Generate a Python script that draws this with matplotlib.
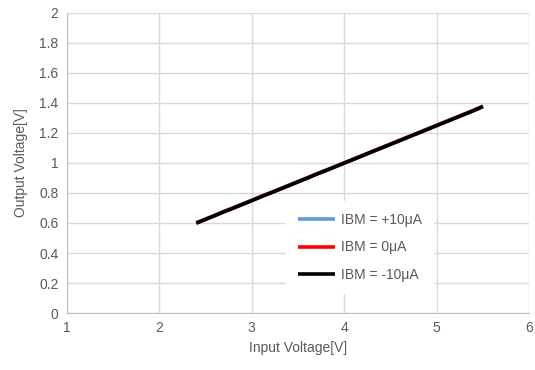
import numpy as np
import matplotlib.pyplot as plt

plt.rcParams['font.family'] = ['Liberation Sans', 'DejaVu Sans']

# Input voltage sweep [V]
vin = [2.4, 2.5, 2.6, 2.7, 2.8, 2.9, 3.0, 3.1, 3.2, 3.3, 3.4, 3.5, 3.6, 3.7, 3.8,
       3.9, 4.0, 4.1, 4.2, 4.3, 4.4, 4.5, 4.6, 4.7, 4.8, 4.9, 5.0, 5.1, 5.2, 5.3,
       5.4, 5.5]
# Output voltage [V] for each bias current
vout_p10 = [0.602, 0.627, 0.652, 0.678, 0.702, 0.727, 0.752, 0.778, 0.802, 0.827,
            0.852, 0.877, 0.902, 0.928, 0.952, 0.977, 1.002, 1.027, 1.052, 1.077,
            1.102, 1.127, 1.152, 1.177, 1.202, 1.227, 1.252, 1.277, 1.302, 1.327,
            1.352, 1.380]
vout_0 = [0.600, 0.625, 0.650, 0.676, 0.700, 0.725, 0.750, 0.776, 0.800, 0.825,
          0.850, 0.875, 0.900, 0.926, 0.950, 0.975, 1.000, 1.025, 1.050, 1.075,
          1.100, 1.125, 1.150, 1.175, 1.200, 1.225, 1.250, 1.275, 1.300, 1.325,
          1.350, 1.377]
vout_m10 = [0.599, 0.624, 0.649, 0.675, 0.699, 0.724, 0.749, 0.775, 0.799, 0.824,
            0.849, 0.874, 0.899, 0.925, 0.949, 0.974, 0.999, 1.024, 1.049, 1.074,
            1.099, 1.124, 1.149, 1.174, 1.199, 1.224, 1.249, 1.274, 1.299, 1.324,
            1.349, 1.376]

labels = ['IBM = +10μA', 'IBM = 0μA', 'IBM = -10μA']
colors = ['#5b9bd5', '#ff0000', '#000000']

fig = plt.figure(figsize=(5.35, 3.7), dpi=100)
ax = fig.add_axes([0.125, 0.154, 0.864, 0.811])

for y, lab, c in zip([vout_p10, vout_0, vout_m10], labels, colors):
    ax.plot(vin, y, color=c, lw=2.6, label=lab, solid_capstyle='butt')

ax.set_xlim(1, 6)
ax.set_ylim(0, 2)
ax.set_xticks(np.arange(1, 7, 1))
ax.set_yticks(np.arange(0, 2.01, 0.2))
ax.set_yticklabels(['0', '0.2', '0.4', '0.6', '0.8', '1', '1.2', '1.4', '1.6', '1.8', '2'])
ax.grid(color='#d9d9d9', lw=1)
ax.set_axisbelow(True)
for s in ['top', 'right']:
    ax.spines[s].set_visible(False)
for s in ['left', 'bottom']:
    ax.spines[s].set_color('#bfbfbf')
ax.tick_params(length=0, colors='#595959', labelsize=10, pad=6)
ax.set_xlabel('Input Voltage[V]', color='#595959', fontsize=10, labelpad=4)
ax.set_ylabel('Output Voltage[V]', color='#595959', fontsize=10, labelpad=8)

leg = ax.legend(loc='upper left', bbox_to_anchor=(0.46, 0.395), frameon=True,
                fancybox=False, edgecolor='white', framealpha=1, fontsize=10,
                handlelength=2.7, labelspacing=1.0, borderpad=0.8, handletextpad=0.4)
for t in leg.get_texts():
    t.set_color('#595959')

fig.savefig('out.png', dpi=100)
